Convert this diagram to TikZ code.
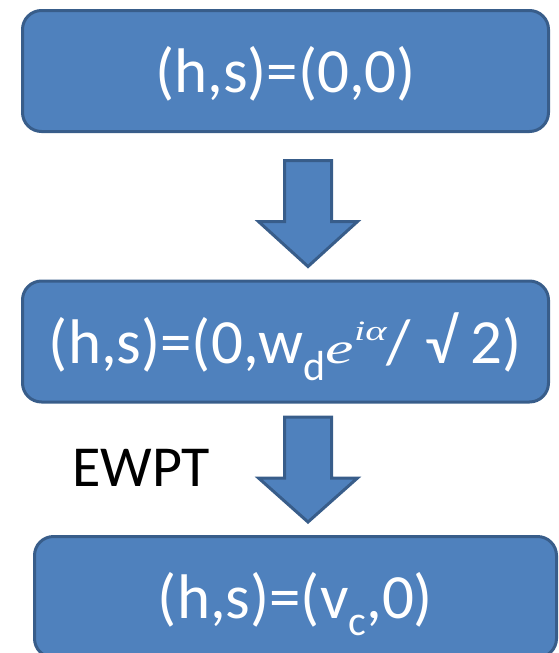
\documentclass[tikz,border=0pt]{standalone}
\usepackage{fontspec}
\usepackage{graphicx}
\setmainfont{Carlito}
\newfontfamily\eqfont{Liberation Serif}
\usetikzlibrary{calc}
\definecolor{boxfill}{HTML}{4F81BD}
\definecolor{boxline}{HTML}{385D8A}
\newcommand{\sbs}[1]{\raisebox{-17pt}{\fontsize{42}{42}\selectfont #1}}
\newcommand{\eia}{\scalebox{1.45}[1]{\eqfont\itshape\fontsize{44}{44}\selectfont e\raisebox{23pt}{\fontsize{28}{28}\selectfont iα}}}
\begin{document}
\begin{tikzpicture}[x=1pt,y=-1pt,
  statebox/.style={draw=boxline,fill=boxfill,line width=3pt,rounded corners=19pt,
    text=white,inner sep=0pt,text height=43pt,text depth=0pt,
    font=\fontsize{63}{75}\selectfont},
  blockarrow/.style={draw=boxline,fill=boxfill,line width=3pt,line join=miter}]
\useasboundingbox (0,0) rectangle (559,653);
\node[statebox,minimum width=526pt,minimum height=121pt] (b1) at (285.5,71) {(h,s)=(0,0)};
\node[statebox,minimum width=526pt,minimum height=121pt] (b2) at (285.5,341.5) {(h,s)=(0,w\sbs{d}\eia/ √ 2)};
\node[statebox,minimum width=522pt,minimum height=121pt] (b3) at (295.5,597) {(h,s)=(v\sbs{c},0)};
\node[anchor=base west,inner sep=0pt,font=\fontsize{58}{70}\selectfont] (ewpt) at (72,486) {EWPT};
% arrow 1
\coordinate (a1) at ($(b1.south)+(22.5,27.5)$);
\coordinate (a1tip) at ($(b2.north)+(22.5,-13)$);
\draw[blockarrow] ($(a1)+(-23.5,0)$) -- ($(a1)+(23.5,0)$) -- ($(a1)+(23.5,61)$) -- ($(a1)+(49.5,61)$)
  -- (a1tip) -- ($(a1)+(-49.5,61)$) -- ($(a1)+(-23.5,61)$) -- cycle;
% arrow 2
\coordinate (a2) at ($(b2.south)+(22.5,13.5)$);
\coordinate (a2tip) at ($(b3.north)+(12.5,-13)$);
\draw[blockarrow] ($(a2)+(-23.5,0)$) -- ($(a2)+(23.5,0)$) -- ($(a2)+(23.5,61)$) -- ($(a2)+(49.5,61)$)
  -- (a2tip) -- ($(a2)+(-49.5,61)$) -- ($(a2)+(-23.5,61)$) -- cycle;
\end{tikzpicture}
\end{document}
